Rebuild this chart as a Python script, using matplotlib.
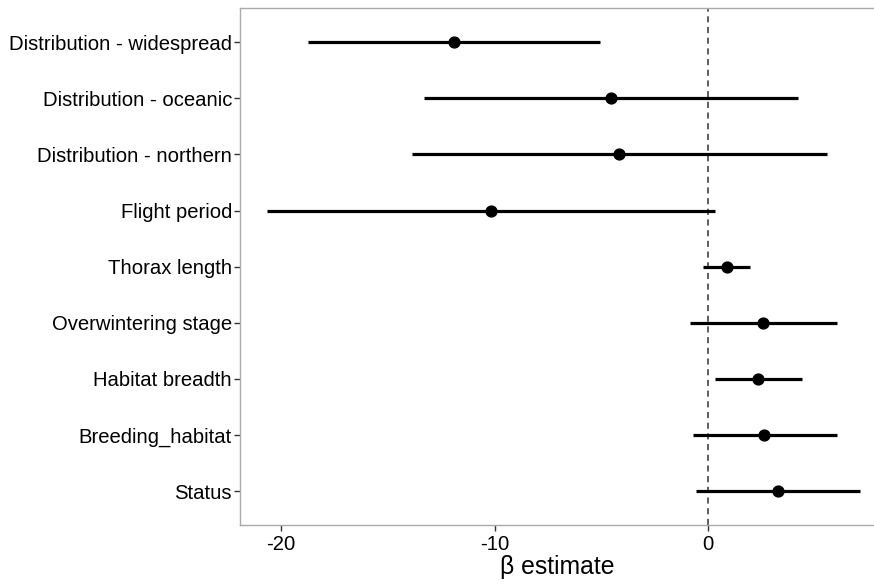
import numpy as np
import matplotlib
matplotlib.use('Agg')
import matplotlib.pyplot as plt

plt.rcParams['font.family'] = ['Liberation Sans', 'DejaVu Sans']

# top to bottom as drawn
terms = ['Distribution - widespread', 'Distribution - oceanic', 'Distribution - northern',
         'Flight period', 'Thorax length', 'Overwintering stage', 'Habitat breadth',
         'Breeding_habitat', 'Status']
beta = [-11.90, -4.56, -4.16, -10.17, 0.85, 2.56, 2.33, 2.62, 3.24]
lower = [-18.74, -13.30, -13.86, -20.64, -0.25, -0.85, 0.29, -0.74, -0.60]
upper = [-5.05, 4.21, 5.57, 0.29, 1.96, 6.00, 4.39, 6.04, 7.09]

fig = plt.figure(figsize=(8.74, 5.85), dpi=100)
ax = fig.add_axes([0.275, 0.1026, 0.725, 0.883])

n = len(terms)
y = np.arange(n, 0, -1)

ax.axvline(0, color='#333333', linestyle=(0, (4, 3)), linewidth=1.1, zorder=1)
ax.hlines(y, lower, upper, color='black', linewidth=2.3, zorder=2)
ax.plot(beta, y, 'o', color='black', markersize=7.8, zorder=3)

ax.set_xlim(-21.9, 7.75)
ax.set_ylim(0.4, n + 0.6)
ax.set_yticks(y)
ax.set_yticklabels(terms)
ax.set_xticks([-20, -10, 0])
ax.set_xticklabels(['-20', '-10', '0'])
ax.set_xlabel('β estimate', fontsize=17.8, labelpad=1)

ax.tick_params(axis='both', labelsize=14.6, colors='#333333', labelcolor='black',
               length=4, width=1)
ax.tick_params(axis='x', pad=3)
ax.tick_params(axis='y', pad=2)

for side in ['left', 'top', 'bottom']:
    ax.spines[side].set_color('#aaaaaa')
    ax.spines[side].set_linewidth(1)
ax.spines['right'].set_visible(False)

fig.savefig('out.png', dpi=100)
